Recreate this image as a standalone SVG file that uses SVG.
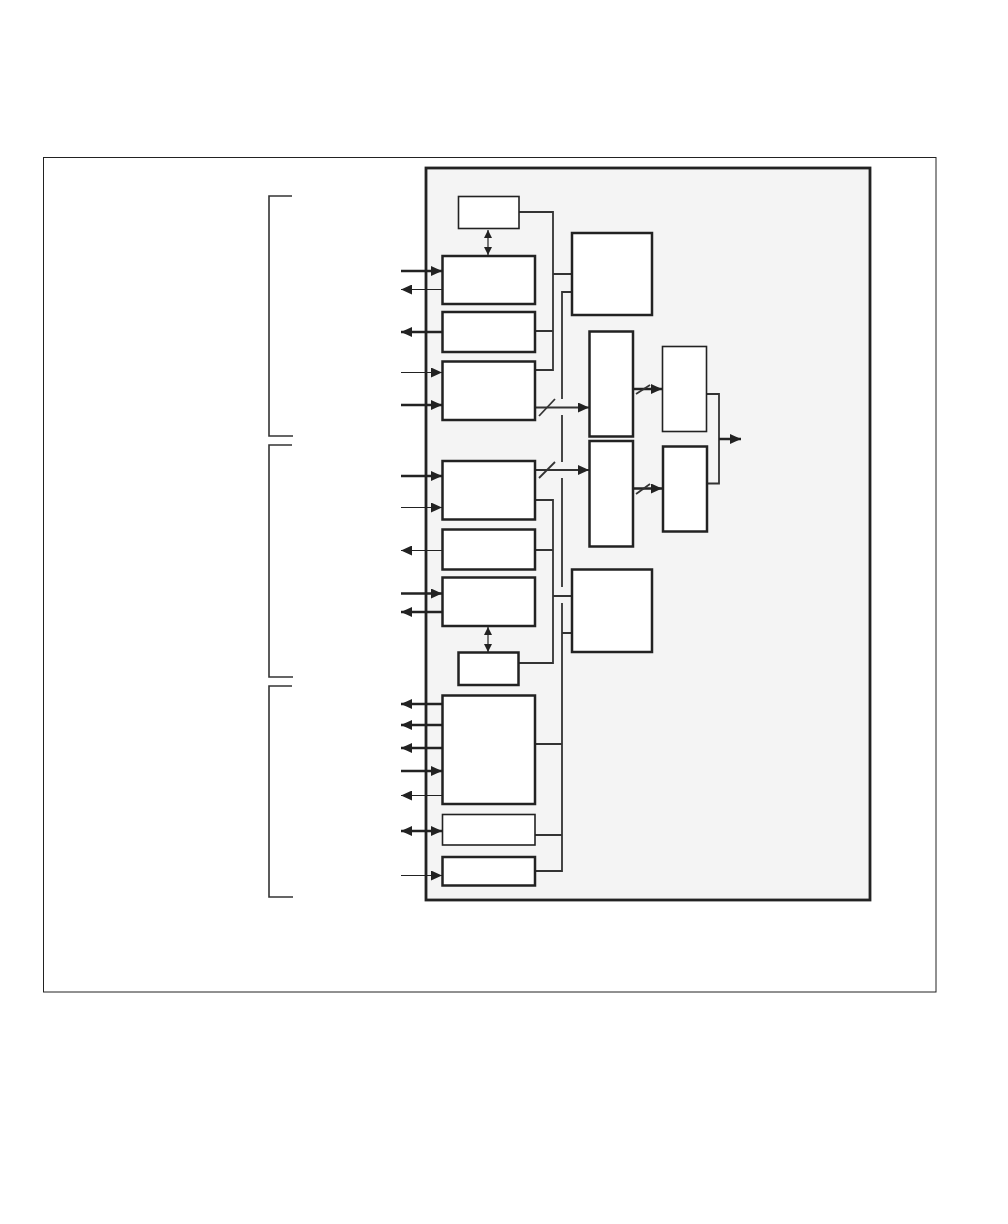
<svg xmlns="http://www.w3.org/2000/svg" width="1008" height="1224" viewBox="0 0 1008 1224">
<defs>
<style>
.box{fill:#fff;stroke:#222;stroke-width:2.5}
.thinbox{fill:#fff;stroke:#222;stroke-width:1.6}
.w{fill:none;stroke:#333;stroke-width:1.8}
.ak{stroke:#222;stroke-width:2.5;fill:none}
.at{stroke:#222;stroke-width:1.2;fill:none}
.br{fill:none;stroke:#333;stroke-width:1.6}
</style>
<marker id="ah" markerUnits="userSpaceOnUse" markerWidth="12" markerHeight="10" refX="11" refY="5" orient="auto-start-reverse"><path d="M0,0 L11,5 L0,10 z" fill="#222"/></marker>
<marker id="as" markerUnits="userSpaceOnUse" markerWidth="9" markerHeight="8" refX="8" refY="4" orient="auto-start-reverse"><path d="M0,0 L8,4 L0,8 z" fill="#222"/></marker>
</defs>
<rect width="1008" height="1224" fill="#fff"/>
<rect x="43.5" y="157.5" width="892.5" height="834.5" fill="none" stroke="#222" stroke-width="1"/>
<g id="brackets">
<path class="br" d="M292,196 H269 V436 H293"/>
<path class="br" d="M292,445 H269 V677 H293"/>
<path class="br" d="M292,686 H269 V897 H293"/>
</g>
<g id="chip"><rect x="426" y="168" width="444" height="732" fill="#f4f4f4" stroke="#222" stroke-width="2.8"/></g>
<g id="connectors">
<!-- upper bus -->
<path class="w" d="M519,212 H553 V370 H535 M535,331 H553 M553,274 H572"/>
<!-- lower bus -->
<path class="w" d="M535,500 H553 V663 H518 M535,550 H553 M553,596 H572"/>
<!-- long vertical bus with hops -->
<path class="w" d="M572,292 H562 V399 M562,415 V462 M562,478 V587 M562,603 V871 H535 M562,633 H572 M535,744 H562 M535,835 H562"/>
<!-- small double arrows -->
<line class="at" x1="488" y1="230" x2="488" y2="255" marker-start="url(#as)" marker-end="url(#as)"/>
<line class="at" x1="488" y1="627" x2="488" y2="652" marker-start="url(#as)" marker-end="url(#as)"/>
<!-- bus arrows to D, E -->
<line class="w" x1="535" y1="407.5" x2="589" y2="407.5" marker-end="url(#ah)"/>
<line class="w" x1="539" y1="416" x2="555" y2="399"/>
<line class="w" x1="535" y1="470" x2="589" y2="470" marker-end="url(#ah)"/>
<line class="w" x1="539" y1="478" x2="555" y2="462"/>
<!-- D->F, E->G -->
<line class="ak" x1="633" y1="389" x2="662" y2="389" marker-end="url(#ah)"/>
<line class="w" x1="636" y1="394" x2="650" y2="385"/>
<line class="ak" x1="633" y1="488.5" x2="662" y2="488.5" marker-end="url(#ah)"/>
<line class="w" x1="636" y1="494" x2="650" y2="484"/>
<!-- combine -->
<path class="w" d="M706,394 H719 V483.5 H707"/>
<line class="ak" x1="719" y1="439" x2="741" y2="439" marker-end="url(#ah)"/>
<!-- left side arrows -->
<line class="ak" x1="401" y1="271" x2="442" y2="271" marker-end="url(#ah)"/>
<line class="at" x1="442" y1="289.5" x2="401" y2="289.5" marker-end="url(#ah)"/>
<line class="ak" x1="442" y1="332" x2="401" y2="332" marker-end="url(#ah)"/>
<line class="at" x1="401" y1="372.5" x2="442" y2="372.5" marker-end="url(#ah)"/>
<line class="ak" x1="401" y1="405" x2="442" y2="405" marker-end="url(#ah)"/>
<line class="ak" x1="401" y1="476" x2="442" y2="476" marker-end="url(#ah)"/>
<line class="at" x1="401" y1="507.5" x2="442" y2="507.5" marker-end="url(#ah)"/>
<line class="at" x1="442" y1="550.5" x2="401" y2="550.5" marker-end="url(#ah)"/>
<line class="ak" x1="401" y1="593.5" x2="442" y2="593.5" marker-end="url(#ah)"/>
<line class="ak" x1="442" y1="612" x2="401" y2="612" marker-end="url(#ah)"/>
<line class="ak" x1="442" y1="704" x2="401" y2="704" marker-end="url(#ah)"/>
<line class="ak" x1="442" y1="725" x2="401" y2="725" marker-end="url(#ah)"/>
<line class="ak" x1="442" y1="748" x2="401" y2="748" marker-end="url(#ah)"/>
<line class="ak" x1="401" y1="771" x2="442" y2="771" marker-end="url(#ah)"/>
<line class="at" x1="442" y1="795.5" x2="401" y2="795.5" marker-end="url(#ah)"/>
<line class="ak" x1="401" y1="831" x2="442" y2="831" marker-start="url(#ah)" marker-end="url(#ah)"/>
<line class="at" x1="401" y1="875.5" x2="442" y2="875.5" marker-end="url(#ah)"/>
</g>
<g id="n-top-small"><rect class="thinbox" x="458.5" y="196.5" width="60.5" height="32"/></g>
<g id="n-a"><rect class="box" x="442.5" y="256" width="92.5" height="48"/></g>
<g id="n-b"><rect class="box" x="442.5" y="312" width="92.5" height="40"/></g>
<g id="n-c"><rect class="box" x="442.5" y="361.5" width="92.5" height="58.5"/></g>
<g id="n-h"><rect class="box" x="442.5" y="461" width="92.5" height="58.5"/></g>
<g id="n-i"><rect class="box" x="442.5" y="529.5" width="92.5" height="40"/></g>
<g id="n-j"><rect class="box" x="442.5" y="577.5" width="92.5" height="48.5"/></g>
<g id="n-bottom-small"><rect class="box" x="458.5" y="652.5" width="60" height="32.5"/></g>
<g id="n-l"><rect class="box" x="442.5" y="695.5" width="92.5" height="108.5"/></g>
<g id="n-m"><rect class="thinbox" x="442.5" y="814.5" width="92.5" height="30.5"/></g>
<g id="n-n"><rect class="box" x="442.5" y="857" width="92.5" height="28.5"/></g>
<g id="n-upper-right"><rect class="box" x="572" y="233" width="80" height="82"/></g>
<g id="n-lower-right"><rect class="box" x="572" y="569.5" width="80" height="82.5"/></g>
<g id="n-d"><rect class="box" x="589.5" y="331.5" width="43.5" height="105"/></g>
<g id="n-e"><rect class="box" x="589.5" y="441" width="43.5" height="105.5"/></g>
<g id="n-f"><rect class="thinbox" x="662.5" y="346.5" width="44" height="85"/></g>
<g id="n-g"><rect class="box" x="663" y="446.5" width="44" height="85"/></g>
</svg>
